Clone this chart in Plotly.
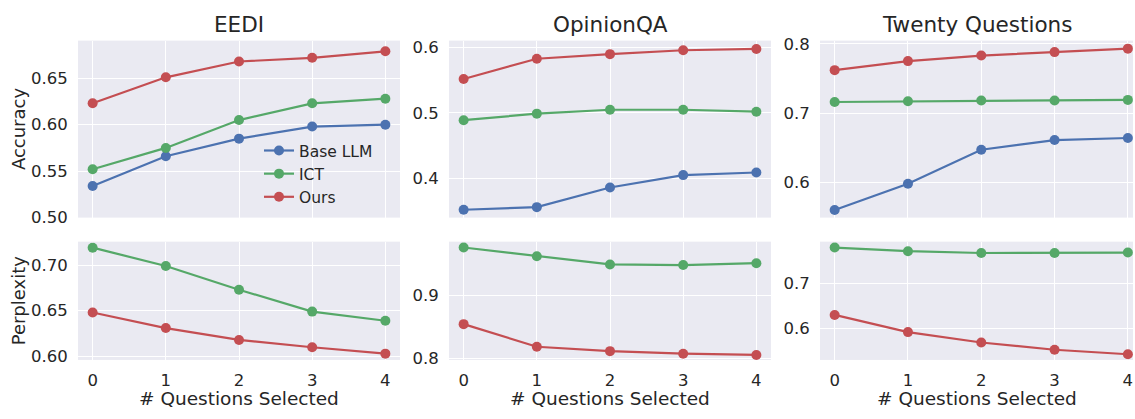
import plotly.graph_objects as go

W, H = 1135, 419

x_steps = [0, 1, 2, 3, 4]
series_names = ["Base LLM", "ICT", "Ours"]
colors = {"Base LLM": "#4C72B0", "ICT": "#55A868", "Ours": "#C44E52"}
panel_titles = ["EEDI", "OpinionQA", "Twenty Questions"]

# Accuracy (top row)
eedi_acc_base = [0.534, 0.566, 0.585, 0.598, 0.600]
eedi_acc_ict = [0.552, 0.575, 0.605, 0.623, 0.628]
eedi_acc_ours = [0.623, 0.651, 0.668, 0.672, 0.679]

oqa_acc_base = [0.352, 0.356, 0.386, 0.405, 0.409]
oqa_acc_ict = [0.489, 0.499, 0.505, 0.505, 0.502]
oqa_acc_ours = [0.552, 0.583, 0.590, 0.596, 0.598]

tq_acc_base = [0.560, 0.598, 0.647, 0.661, 0.664]
tq_acc_ict = [0.716, 0.717, 0.718, 0.718, 0.719]
tq_acc_ours = [0.762, 0.775, 0.783, 0.788, 0.793]

# Perplexity (bottom row)
eedi_ppl_ict = [0.719, 0.699, 0.673, 0.649, 0.639]
eedi_ppl_ours = [0.648, 0.631, 0.618, 0.610, 0.603]

oqa_ppl_ict = [0.976, 0.962, 0.949, 0.948, 0.951]
oqa_ppl_ours = [0.854, 0.818, 0.811, 0.807, 0.805]

tq_ppl_ict = [0.779, 0.771, 0.767, 0.767, 0.768]
tq_ppl_ours = [0.630, 0.592, 0.569, 0.553, 0.543]

acc_panels = [
    {"Base LLM": eedi_acc_base, "ICT": eedi_acc_ict, "Ours": eedi_acc_ours},
    {"Base LLM": oqa_acc_base, "ICT": oqa_acc_ict, "Ours": oqa_acc_ours},
    {"Base LLM": tq_acc_base, "ICT": tq_acc_ict, "Ours": tq_acc_ours},
]
ppl_panels = [
    {"ICT": eedi_ppl_ict, "Ours": eedi_ppl_ours},
    {"ICT": oqa_ppl_ict, "Ours": oqa_ppl_ours},
    {"ICT": tq_ppl_ict, "Ours": tq_ppl_ours},
]

acc_ranges = [[0.50, 0.6905], [0.340, 0.6107], [0.549, 0.8046]]
acc_ticks = [[0.50, 0.55, 0.60, 0.65], [0.4, 0.5, 0.6], [0.6, 0.7, 0.8]]
acc_fmt = [".2f", ".1f", ".1f"]
ppl_ranges = [[0.5961, 0.7256], [0.797, 0.9853], [0.5304, 0.7921]]
ppl_ticks = [[0.60, 0.65, 0.70], [0.8, 0.9], [0.6, 0.7]]
ppl_fmt = [".2f", ".1f", ".1f"]

# layout (pixel boxes)
col_px = [(78, 400), (449, 771), (820, 1133)]
x_ranges = [[-0.2, 4.2], [-0.2, 4.2], [-0.2, 4.07]]
top_row_px = (36, 220)
bot_row_px = (245, 368)

TXT = "#262626"
BG = "#EAEAF2"
FONT = "DejaVu Sans"

fig = go.Figure()


def px_x(a):
    return a / W


def px_y(b):
    return 1 - b / H


layout_axes = {}
for c in range(3):
    for r in range(2):
        idx = r * 3 + c + 1
        xname = "xaxis" if idx == 1 else f"xaxis{idx}"
        yname = "yaxis" if idx == 1 else f"yaxis{idx}"
        xref = "x" if idx == 1 else f"x{idx}"
        yref = "y" if idx == 1 else f"y{idx}"
        rowpx = top_row_px if r == 0 else bot_row_px
        data = acc_panels[c] if r == 0 else ppl_panels[c]
        for name in series_names:
            if name not in data:
                continue
            fig.add_trace(go.Scatter(
                x=x_steps, y=data[name], name=name, mode="lines+markers",
                line=dict(color=colors[name], width=2.2),
                marker=dict(color=colors[name], size=10),
                xaxis=xref, yaxis=yref, cliponaxis=False,
                showlegend=(idx == 1), legendgroup=name,
            ))
        layout_axes[xname] = dict(
            domain=[px_x(col_px[c][0]), px_x(col_px[c][1])],
            range=x_ranges[c], anchor=yref,
            tickmode="array", tickvals=x_steps,
            showticklabels=(r == 1), showgrid=True, gridcolor="white",
            gridwidth=1.3, zeroline=False, showline=False,
            ticks="outside", ticklen=5, tickcolor="rgba(0,0,0,0)",
            tickfont=dict(size=16.5, color=TXT, family=FONT),
        )
        layout_axes[yname] = dict(
            domain=[px_y(rowpx[1]), px_y(rowpx[0])], anchor=xref,
            range=acc_ranges[c] if r == 0 else ppl_ranges[c],
            tickmode="array",
            tickvals=acc_ticks[c] if r == 0 else ppl_ticks[c],
            tickformat=acc_fmt[c] if r == 0 else ppl_fmt[c],
            showgrid=True, gridcolor="white", gridwidth=1.3,
            zeroline=False, showline=False,
            ticks="outside", ticklen=6, tickcolor="rgba(0,0,0,0)",
            tickfont=dict(size=16.5, color=TXT, family=FONT),
        )

annotations = []
for c in range(3):
    cx = px_x((col_px[c][0] + col_px[c][1]) / 2)
    annotations.append(dict(
        text=panel_titles[c], x=cx, y=px_y(19), xref="paper", yref="paper",
        xanchor="center", yanchor="middle", showarrow=False,
        font=dict(size=21.5, color=TXT, family=FONT)))
    annotations.append(dict(
        text="# Questions Selected", x=cx, y=px_y(408.5), xref="paper", yref="paper",
        xanchor="center", yanchor="middle", showarrow=False,
        font=dict(size=18.5, color=TXT, family=FONT)))

annotations.append(dict(
    text="Accuracy", x=px_x(18), y=px_y(128), xref="paper", yref="paper",
    xanchor="center", yanchor="middle", showarrow=False, textangle=-90,
    font=dict(size=18, color=TXT, family=FONT)))
annotations.append(dict(
    text="Perplexity", x=px_x(18), y=px_y(306), xref="paper", yref="paper",
    xanchor="center", yanchor="middle", showarrow=False, textangle=-90,
    font=dict(size=18, color=TXT, family=FONT)))

fig.update_layout(
    width=W, height=H,
    margin=dict(l=0, r=0, t=0, b=0),
    paper_bgcolor="white", plot_bgcolor=BG,
    font=dict(family=FONT, color=TXT),
    showlegend=True, hovermode=False,
    legend=dict(
        x=px_x(259), y=px_y(133), xanchor="left", yanchor="top",
        bgcolor="rgba(0,0,0,0)", borderwidth=0, tracegroupgap=0,
        font=dict(size=15.5, color=TXT, family=FONT),
    ),
    annotations=annotations,
    **layout_axes,
)

# Let the figure fill the window exactly: drop the default page margin.
fig.write_html(
    "out.html",
    config={"displayModeBar": False},
    post_script="document.body.style.margin='0';"
                "document.documentElement.style.overflow='hidden';",
)
